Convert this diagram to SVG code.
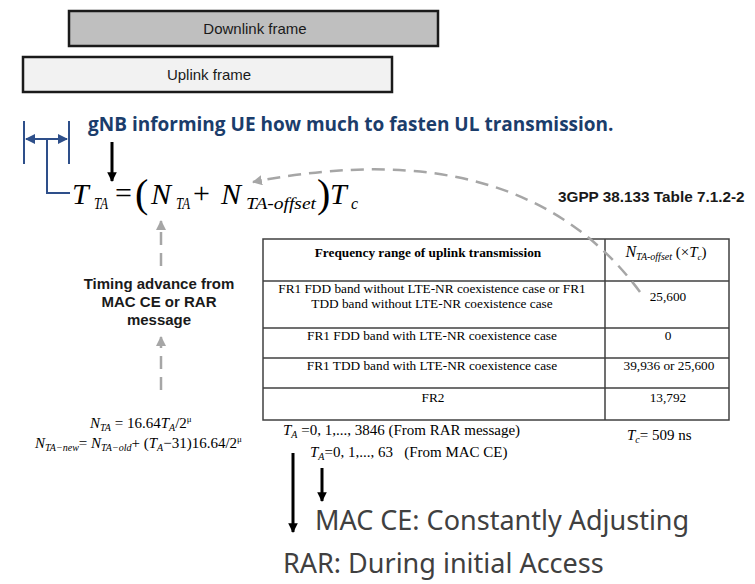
<svg xmlns="http://www.w3.org/2000/svg" width="755" height="584" viewBox="0 0 755 584">
<style>
.frame{stroke:#1a1a1a;stroke-width:2.5}
.ftxt{font-family:"Liberation Sans",Arial,sans-serif;font-size:15px;fill:#1a1a1a;text-anchor:middle}
.navy{stroke:#2e4f8a;stroke-width:2;fill:none}
.blk{stroke:#000;stroke-width:3;fill:none}
.gdash{stroke:#a6a6a6;stroke-width:2.5;fill:none;stroke-dasharray:13 8}
.math{font-family:"Liberation Serif","Times New Roman",serif;fill:#000}
.tbl{stroke:#404040;stroke-width:1.5;fill:none}
.tt{font-family:"Liberation Serif","Times New Roman",serif;font-size:13.3px;fill:#000;text-anchor:middle}
.lab{font-family:"Liberation Sans",Arial,sans-serif;font-weight:bold;font-size:15px;fill:#1a1a1a;text-anchor:middle}
.big{font-family:"Noto Sans","Open Sans",sans-serif;font-size:27px;fill:#404040}
</style>
<defs>
<marker id="ab" viewBox="0 0 10 10" refX="9" refY="5" markerWidth="3.2" markerHeight="3.2" orient="auto"><path d="M0,0L10,5L0,10z" fill="#000"/></marker>
<marker id="an" viewBox="0 0 10 10" refX="9" refY="5" markerWidth="5" markerHeight="5" orient="auto-start-reverse"><path d="M0,0L10,5L0,10z" fill="#2e4f8a"/></marker>
<marker id="ag" viewBox="0 0 10 10" refX="9" refY="5" markerWidth="4" markerHeight="4" orient="auto"><path d="M0,0L10,5L0,10z" fill="#a6a6a6"/></marker>
</defs>

<g id="downlink">
<rect class="frame" x="69" y="11" width="369" height="35" fill="#bfbfbf"/>
<text class="ftxt" x="255" y="34">Downlink frame</text>
</g>
<g id="uplink">
<rect class="frame" x="23" y="57" width="369" height="35" fill="#f2f2f2"/>
<text class="ftxt" x="209" y="80">Uplink frame</text>
</g>

<g id="bracket">
<line class="navy" x1="24" y1="121" x2="24" y2="164"/>
<line class="navy" x1="69" y1="121" x2="69" y2="164"/>
<line class="navy" x1="26" y1="139" x2="67" y2="139" marker-start="url(#an)" marker-end="url(#an)"/>
<polyline class="navy" points="47,139 47,193 70,193"/>
</g>

<g id="title">
<text x="88" y="131" font-family="'Open Sans',sans-serif" font-weight="bold" font-size="19" fill="#1b3d6b">gNB informing UE how much to fasten UL transmission.</text>
</g>

<g id="formula" class="math">
<text x="72" y="204" font-size="30" font-style="italic">T</text>
<text x="94" y="209" font-size="16" font-style="italic" textLength="14" lengthAdjust="spacingAndGlyphs">TA</text>
<text x="115" y="203" font-size="30">=</text>
<text x="135" y="207" font-size="40">(</text>
<text x="151" y="204" font-size="30" font-style="italic">N</text>
<text x="176" y="209" font-size="16" font-style="italic" textLength="14" lengthAdjust="spacingAndGlyphs">TA</text>
<text x="193" y="203" font-size="30">+</text>
<text x="221" y="204" font-size="30" font-style="italic">N</text>
<text x="246" y="209" font-size="16" font-style="italic" textLength="70" lengthAdjust="spacingAndGlyphs">TA-offset</text>
<text x="317" y="207" font-size="40">)</text>
<text x="330" y="204" font-size="30" font-style="italic">T</text>
<text x="351" y="209" font-size="16" font-style="italic">c</text>
</g>

<g id="ref-label">
<text x="558" y="202" font-family="'Liberation Sans',Arial,sans-serif" font-weight="bold" font-size="15.3" fill="#1a1a1a">3GPP 38.133 Table 7.1.2-2</text>
</g>

<g id="table">
<rect class="tbl" x="263" y="239" width="466" height="181"/>
<line class="tbl" x1="605" y1="239" x2="605" y2="420"/>
<line class="tbl" x1="263" y1="281" x2="729" y2="281"/>
<line class="tbl" x1="263" y1="328" x2="729" y2="328"/>
<line class="tbl" x1="263" y1="358" x2="729" y2="358"/>
<line class="tbl" x1="263" y1="388" x2="729" y2="388"/>
<text class="tt" x="428" y="257" font-weight="bold">Frequency range of uplink transmission</text>
<text class="tt" x="666" y="257"><tspan font-style="italic" font-size="16">N</tspan><tspan font-style="italic" font-size="10" dy="3">TA-offset</tspan><tspan dy="-3" font-size="15"> (×</tspan><tspan font-style="italic" font-size="15">T</tspan><tspan font-style="italic" font-size="9" dy="3">c</tspan><tspan dy="-3" font-size="15">)</tspan></text>
<text class="tt" x="432" y="293">FR1 FDD band without LTE-NR coexistence case or FR1</text>
<text class="tt" x="432" y="308">TDD band without LTE-NR coexistence case</text>
<text class="tt" x="668" y="301">25,600</text>
<text class="tt" x="432" y="340">FR1 FDD band with LTE-NR coexistence case</text>
<text class="tt" x="668" y="340">0</text>
<text class="tt" x="432" y="370">FR1 TDD band with LTE-NR coexistence case</text>
<text class="tt" x="669" y="370">39,936 or 25,600</text>
<text class="tt" x="433" y="402">FR2</text>
<text class="tt" x="668" y="402">13,792</text>
</g>

<g id="ta-label">
<text class="lab" x="159" y="289">Timing advance from</text>
<text class="lab" x="159" y="307">MAC CE or RAR</text>
<text class="lab" x="159" y="325">message</text>
</g>

<g id="nta-formulas" class="math" font-size="15">
<text x="90" y="428"><tspan font-style="italic">N</tspan><tspan font-style="italic" font-size="10" dy="3">TA</tspan><tspan dy="-3"> = 16.64</tspan><tspan font-style="italic">T</tspan><tspan font-style="italic" font-size="10" dy="3">A</tspan><tspan dy="-3">/2</tspan><tspan font-size="9" dy="-6">μ</tspan></text>
<text x="35" y="448"><tspan font-style="italic">N</tspan><tspan font-style="italic" font-size="10" dy="3">TA−new</tspan><tspan dy="-3">= </tspan><tspan font-style="italic">N</tspan><tspan font-style="italic" font-size="10" dy="3">TA−old</tspan><tspan dy="-3">+ (</tspan><tspan font-style="italic">T</tspan><tspan font-style="italic" font-size="10" dy="3">A</tspan><tspan dy="-3">−31)16.64/2</tspan><tspan font-size="9" dy="-6">μ</tspan></text>
</g>

<g id="ta-ranges" class="math" font-size="15">
<text x="283" y="435"><tspan font-style="italic">T</tspan><tspan font-style="italic" font-size="10" dy="3">A</tspan><tspan dy="-3"> =0, 1,..., 3846 (From RAR message)</tspan></text>
<text x="310" y="457" xml:space="preserve"><tspan font-style="italic">T</tspan><tspan font-style="italic" font-size="10" dy="3">A</tspan><tspan dy="-3">=0, 1,..., 63   (From MAC CE)</tspan></text>
<text x="627" y="440" xml:space="preserve"><tspan font-style="italic">T</tspan><tspan font-style="italic" font-size="10" dy="3">c</tspan><tspan dy="-3">= 509 ns</tspan></text>
</g>

<g id="notes">
<text class="big" x="315" y="530">MAC CE: Constantly Adjusting</text>
<text class="big" x="283" y="573">RAR: During initial Access</text>
</g>

<g id="connectors">
<line class="blk" x1="112" y1="142" x2="112" y2="181" marker-end="url(#ab)"/>
<path class="gdash" d="M640,292 Q520,130 253,182" marker-end="url(#ag)"/>
<line class="gdash" x1="161" y1="266" x2="161" y2="221" marker-end="url(#ag)"/>
<line class="gdash" x1="161" y1="390" x2="161" y2="337" marker-end="url(#ag)"/>
<line class="blk" x1="293" y1="453" x2="293" y2="532" marker-end="url(#ab)"/>
<line class="blk" x1="322" y1="468" x2="322" y2="501" marker-end="url(#ab)"/>
</g>
</svg>
